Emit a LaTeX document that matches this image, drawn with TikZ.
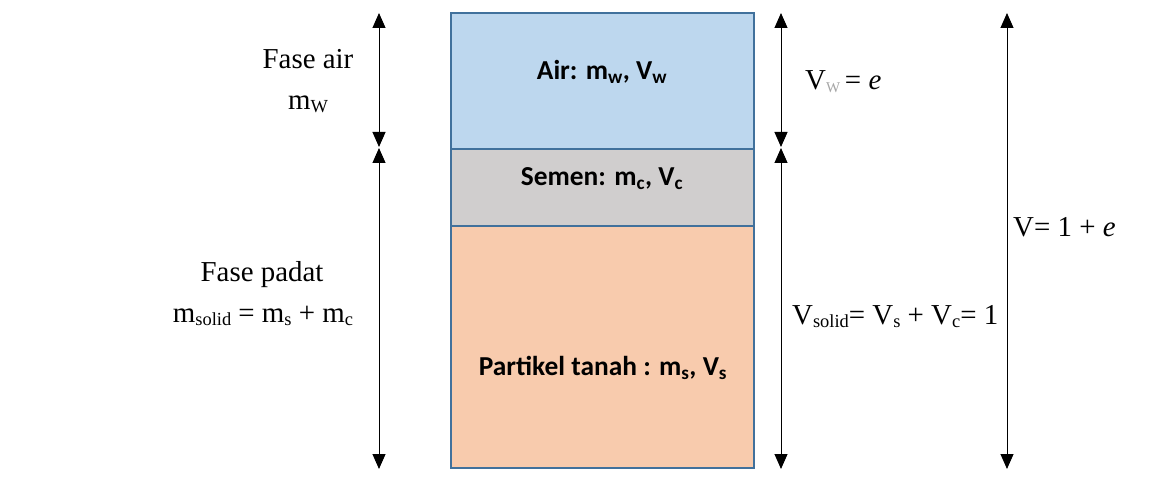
\documentclass[tikz,border=0pt]{standalone}
\usepackage{fontspec}
\setmainfont{Liberation Serif}
\newfontfamily\calibri{Carlito}
\usetikzlibrary{arrows.meta}
\definecolor{airblue}{HTML}{BDD7EE}
\definecolor{cementgrey}{HTML}{D0CECE}
\definecolor{soilpeach}{HTML}{F8CBAD}
\definecolor{frameblue}{HTML}{41719C}
\definecolor{subgrey}{HTML}{A6A6A6}

% lowered, smaller subscript for the serif labels
\newcommand\lowsub[2][18.5]{\raisebox{-3bp}{\fontsize{#1}{#1}\selectfont #2}}

\begin{document}
\begin{tikzpicture}[x=1bp,y=-1bp,
  layer/.style={draw=frameblue, line width=2.2bp, minimum width=303bp,
    inner sep=0pt, outer sep=0pt},
  phase/.style={font=\calibri\bfseries\fontsize{27.5}{32}\selectfont, inner sep=0pt, anchor=base},
  eqn/.style={font=\fontsize{29}{34}\selectfont, inner sep=0pt},
  dimarrow/.style={{Triangle[length=15bp,width=13bp]}-{Triangle[length=15bp,width=13bp]},
    line width=1bp}
]
\useasboundingbox (0,0) rectangle (1151,483);

% phase column
\node[layer, fill=soilpeach, minimum height=242bp] (soil) at (602.5,347) {};
\node[layer, fill=cementgrey, minimum height=77bp] (cement) at (602.5,187.5) {};
\node[layer, fill=airblue, minimum height=136bp] (water) at (602.5,81) {};

\node[phase] (twater) at (602,80) {Air: m\textsubscript{w}, V\textsubscript{w}};
\node[phase] (tcement) at (602,186) {Semen: m\textsubscript{c}, V\textsubscript{c}};
\node[phase] (tsoil) at (603,376) {Partikel tanah : m\textsubscript{s}, V\textsubscript{s}};

% left dimension lines (mass)
\coordinate (La) at (379,13);
\coordinate (Lb) at (379,147);
\coordinate (Lc) at (379,148);
\coordinate (Ld) at (379,469);
\draw[dimarrow] (La) -- (Lb);
\draw[dimarrow] (Lc) -- (Ld);

% right dimension lines (volume)
\coordinate (Ra) at (781,13);
\coordinate (Rb) at (781,147);
\coordinate (Rc) at (781,148);
\coordinate (Rd) at (781,469);
\draw[dimarrow] (Ra) -- (Rb);
\draw[dimarrow] (Rc) -- (Rd);

\coordinate (Ta) at (1007,13);
\coordinate (Tb) at (1007,469);
\draw[dimarrow] (Ta) -- (Tb);

% mass labels
\node[eqn, anchor=base] (fair) at (308,69) {Fase air};
\node[eqn, anchor=base] (mw) at (308,110) {m\lowsub{W}};
\node[eqn, anchor=base] (fpadat) at (262,282) {Fase padat};
\node[eqn, anchor=base] (msolid) at (263,323) {m\lowsub{solid} = m\lowsub{s} + m\lowsub{c}};

% volume labels
\node[eqn, anchor=base west] (vw) at (805,90) {V\lowsub[15]{\color{subgrey}W}\,= \textit{e}};
\node[eqn, anchor=base west] (vsolid) at (792,325) {V\lowsub{solid}= V\lowsub{s} + V\lowsub{c}= 1};
\node[eqn, anchor=base west] (vtot) at (1013,237) {V= 1 + \textit{e}};
\end{tikzpicture}
\end{document}
